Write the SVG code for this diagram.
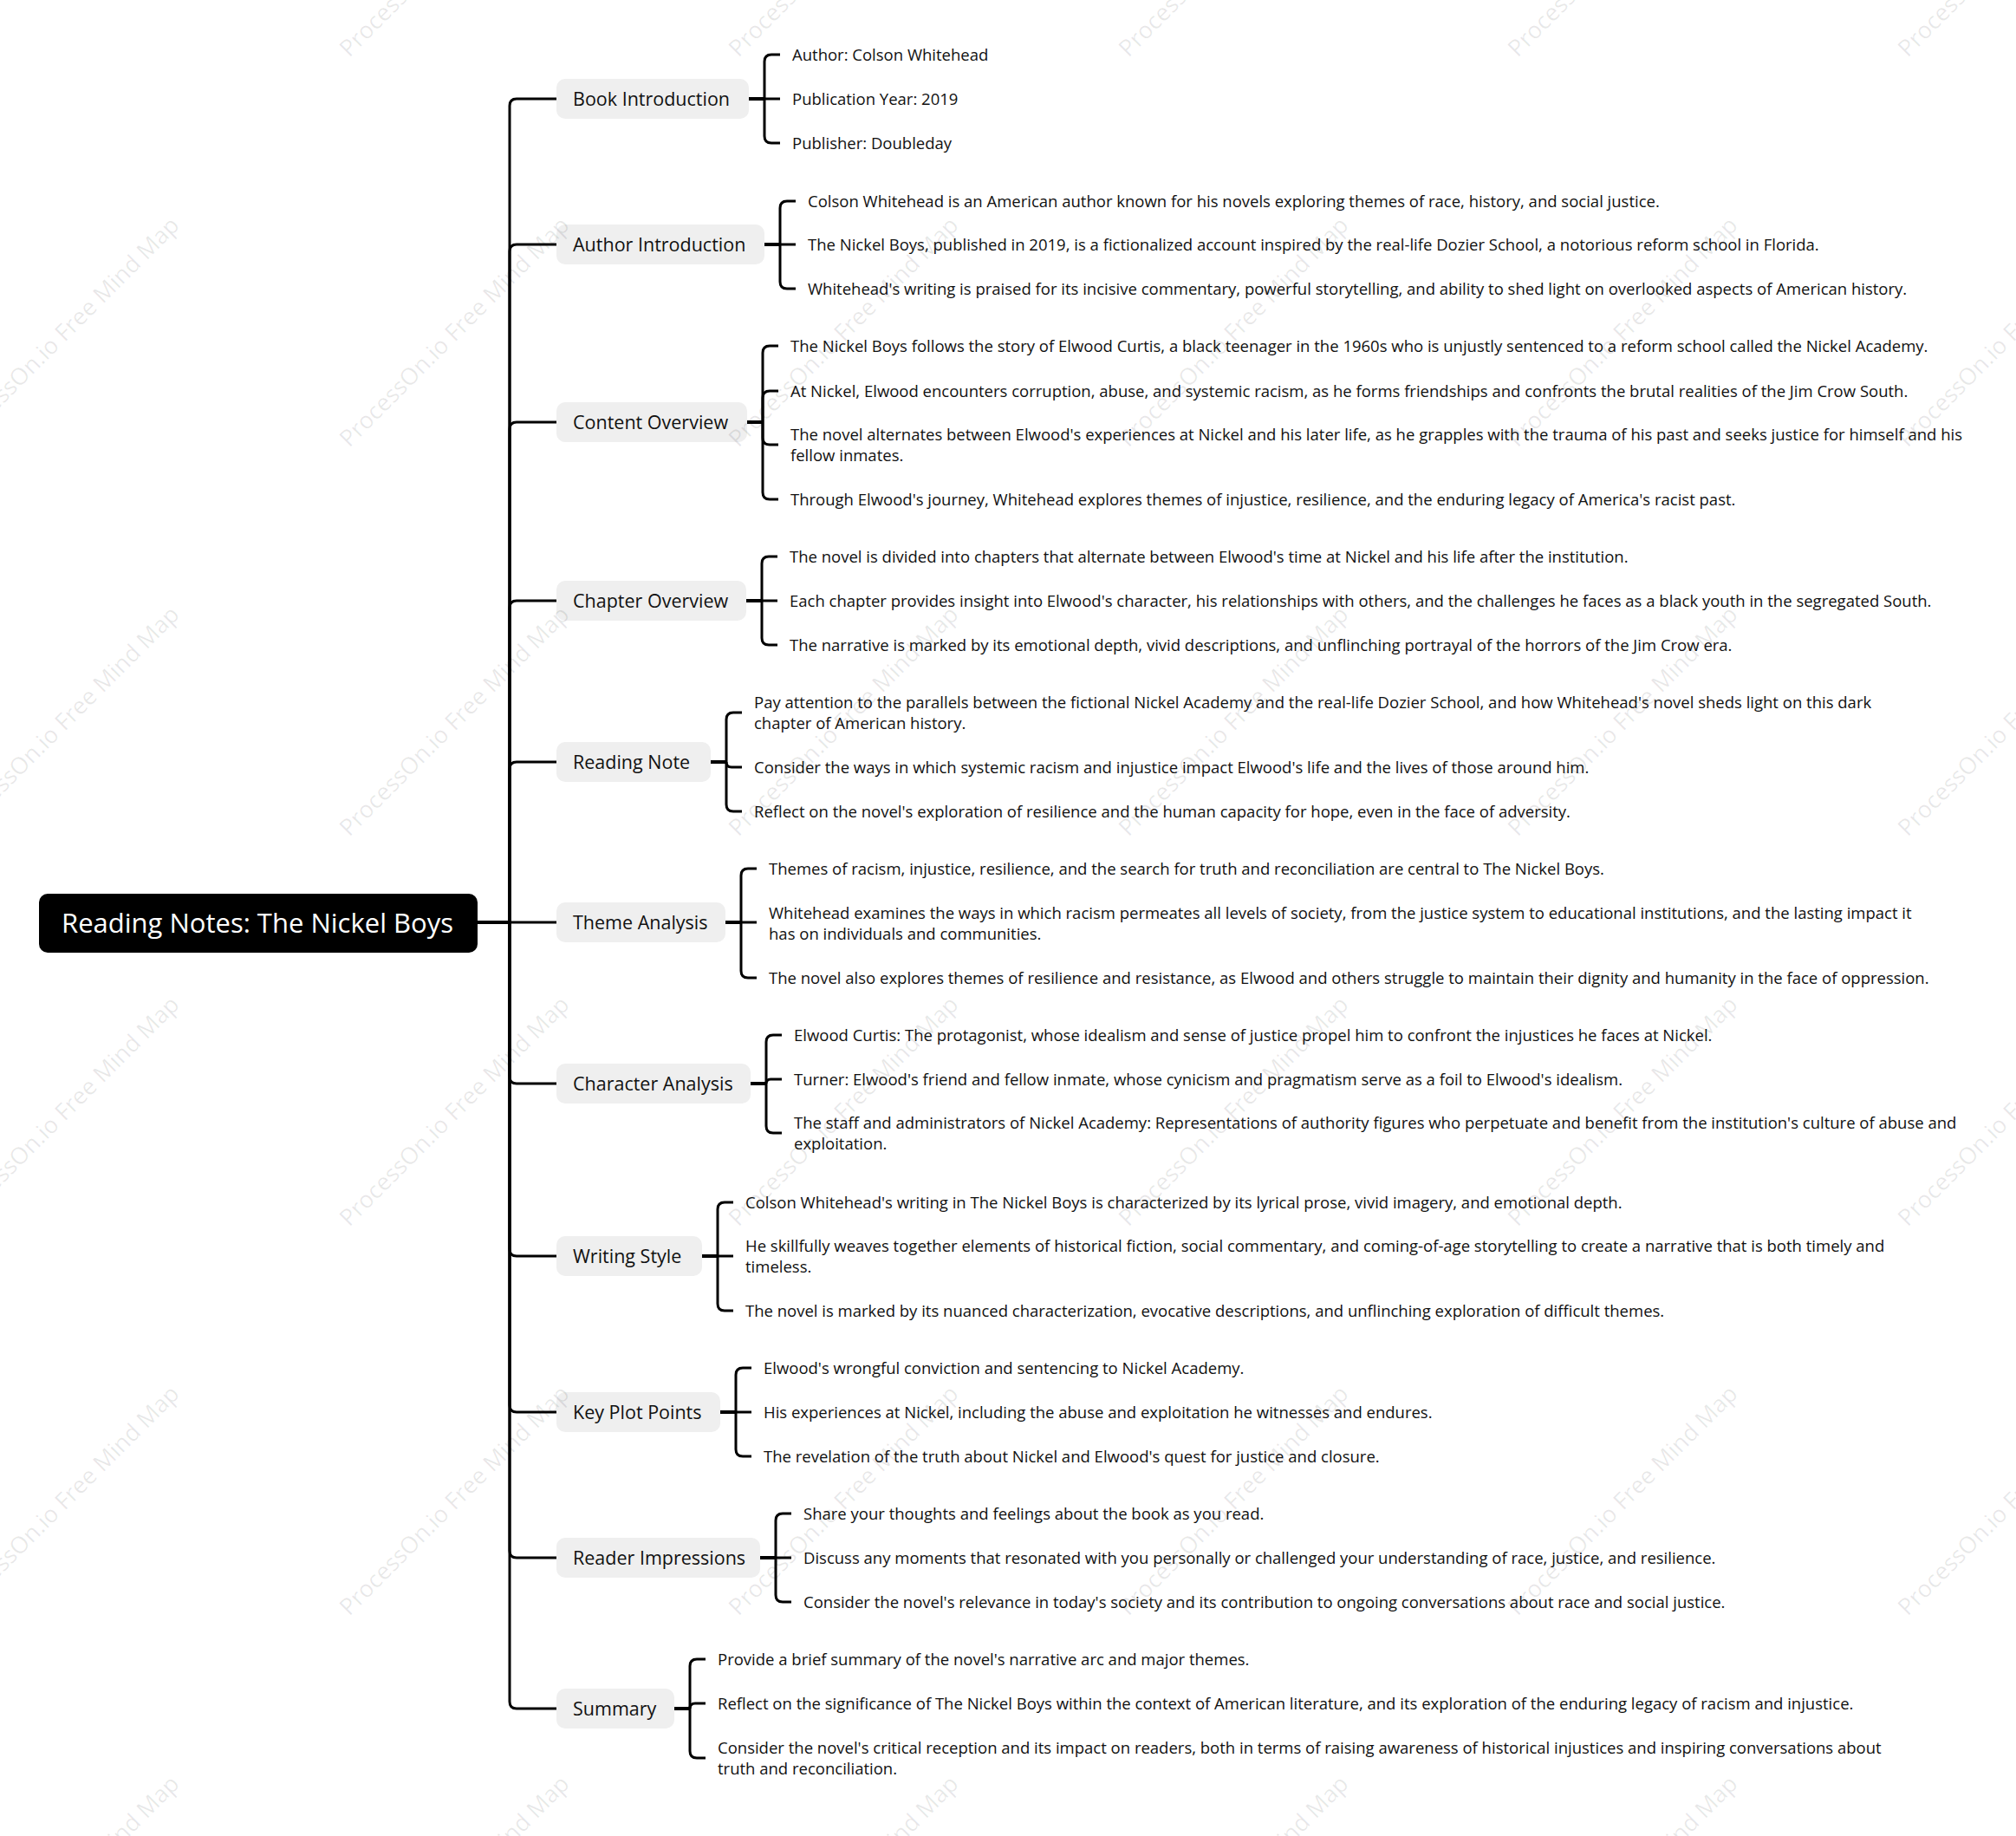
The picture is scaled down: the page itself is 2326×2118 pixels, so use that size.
<svg xmlns="http://www.w3.org/2000/svg" xmlns:xlink="http://www.w3.org/1999/xlink" width="2326" height="2118" viewBox="0 0 2326 2118">
<style>
.bg{fill:#ffffff}
.ln{fill:none;stroke:#000;stroke-width:3;stroke-linejoin:round}
.lt{fill:none;stroke:#000;stroke-width:4}
.root{fill:#000}
.rootT{fill:#fff;font-family:'Open Sans','Noto Sans',sans-serif;font-size:31px;text-anchor:middle}
.box{fill:#efefef}
.bt{fill:#111;font-family:'Open Sans','Noto Sans',sans-serif;font-size:21.5px}
.ct{fill:#111;font-family:'Open Sans','Noto Sans',sans-serif;font-size:18.5px}
.wm{fill:#000;fill-opacity:0.09;font-family:'Open Sans','Noto Sans',sans-serif;font-size:27px}
</style>
<defs>
<text id="wmt" class="wm" x="0" y="0">ProcessOn.io Free Mind Map</text>
</defs>
<rect class="bg" x="0" y="0" width="2326" height="2118"/>

<g id="connectors">
<path class="lt" d="M551 1064 H588"/>
<path class="ln" d="M588 1064 V122 Q588 114 596 114 H642"/>
<path class="ln" d="M588 1064 V290 Q588 282 596 282 H642"/>
<path class="ln" d="M588 1064 V495 Q588 487 596 487 H642"/>
<path class="ln" d="M588 1064 V701 Q588 693 596 693 H642"/>
<path class="ln" d="M588 1064 V887 Q588 879 596 879 H642"/>
<path class="ln" d="M588 1064 H642"/>
<path class="ln" d="M588 1064 V1242 Q588 1250 596 1250 H642"/>
<path class="ln" d="M588 1064 V1441 Q588 1449 596 1449 H642"/>
<path class="ln" d="M588 1064 V1621 Q588 1629 596 1629 H642"/>
<path class="ln" d="M588 1064 V1789 Q588 1797 596 1797 H642"/>
<path class="ln" d="M588 1064 V1963 Q588 1971 596 1971 H642"/>

<path class="lt" d="M864 114 H882"/>
<path class="ln" d="M882 114 V71 Q882 63 890 63 H900"/>
<path class="ln" d="M882 114 H900"/>
<path class="ln" d="M882 114 V157 Q882 165 890 165 H900"/>

<path class="lt" d="M882 282 H900"/>
<path class="ln" d="M900 282 V240 Q900 232 908 232 H918"/>
<path class="ln" d="M900 282 H918"/>
<path class="ln" d="M900 282 V325 Q900 333 908 333 H918"/>

<path class="lt" d="M862 487 H880"/>
<path class="ln" d="M880 487 V407 Q880 399 888 399 H898"/>
<path class="ln" d="M880 487 V459 Q880 451 888 451 H898"/>
<path class="ln" d="M880 487 V505 Q880 513 888 513 H898"/>
<path class="ln" d="M880 487 V568 Q880 576 888 576 H898"/>

<path class="lt" d="M861 693 H879"/>
<path class="ln" d="M879 693 V650 Q879 642 887 642 H897"/>
<path class="ln" d="M879 693 H897"/>
<path class="ln" d="M879 693 V736 Q879 744 887 744 H897"/>

<path class="lt" d="M820 879 H838"/>
<path class="ln" d="M838 879 V830 Q838 822 846 822 H856"/>
<path class="ln" d="M838 879 Q838 885 844 885 H856"/>
<path class="ln" d="M838 879 V928 Q838 936 846 936 H856"/>

<path class="lt" d="M837 1064 H855"/>
<path class="ln" d="M855 1064 V1010 Q855 1002 863 1002 H873"/>
<path class="ln" d="M855 1064 H873"/>
<path class="ln" d="M855 1064 V1120 Q855 1128 863 1128 H873"/>

<path class="lt" d="M866 1250 H884"/>
<path class="ln" d="M884 1250 V1202 Q884 1194 892 1194 H902"/>
<path class="ln" d="M884 1250 Q884 1245 889 1245 H902"/>
<path class="ln" d="M884 1250 V1299 Q884 1307 892 1307 H902"/>

<path class="lt" d="M810 1449 H828"/>
<path class="ln" d="M828 1449 V1395 Q828 1387 836 1387 H846"/>
<path class="ln" d="M828 1449 H846"/>
<path class="ln" d="M828 1449 V1504 Q828 1512 836 1512 H846"/>

<path class="lt" d="M831 1629 H849"/>
<path class="ln" d="M849 1629 V1586 Q849 1578 857 1578 H867"/>
<path class="ln" d="M849 1629 H867"/>
<path class="ln" d="M849 1629 V1672 Q849 1680 857 1680 H867"/>

<path class="lt" d="M877 1797 H895"/>
<path class="ln" d="M895 1797 V1754 Q895 1746 903 1746 H913"/>
<path class="ln" d="M895 1797 H913"/>
<path class="ln" d="M895 1797 V1840 Q895 1848 903 1848 H913"/>

<path class="lt" d="M778 1971 H796"/>
<path class="ln" d="M796 1971 V1922 Q796 1914 804 1914 H814"/>
<path class="ln" d="M796 1971 Q796 1965 802 1965 H814"/>
<path class="ln" d="M796 1971 V2020 Q796 2028 804 2028 H814"/>
</g>

<g id="root">
<rect class="root" x="45" y="1031" width="506" height="68" rx="10"/>
<text class="rootT" x="297" y="1076">Reading Notes: The Nickel Boys</text>
</g>

<g id="book-introduction">
<rect class="box" x="642" y="91" width="222" height="46" rx="10"/>
<text class="bt" x="661" y="122">Book Introduction</text>
<text class="ct" x="914" y="70">Author: Colson Whitehead</text>
<text class="ct" x="914" y="121">Publication Year: 2019</text>
<text class="ct" x="914" y="172">Publisher: Doubleday</text>
</g>

<g id="author-introduction">
<rect class="box" x="642" y="259" width="240" height="46" rx="10"/>
<text class="bt" x="661" y="290">Author Introduction</text>
<text class="ct" x="932" y="239">Colson Whitehead is an American author known for his novels exploring themes of race, history, and social justice.</text>
<text class="ct" x="932" y="289">The Nickel Boys, published in 2019, is a fictionalized account inspired by the real-life Dozier School, a notorious reform school in Florida.</text>
<text class="ct" x="932" y="340">Whitehead's writing is praised for its incisive commentary, powerful storytelling, and ability to shed light on overlooked aspects of American history.</text>
</g>

<g id="content-overview">
<rect class="box" x="642" y="464" width="220" height="46" rx="10"/>
<text class="bt" x="661" y="495">Content Overview</text>
<text class="ct" x="912" y="406">The Nickel Boys follows the story of Elwood Curtis, a black teenager in the 1960s who is unjustly sentenced to a reform school called the Nickel Academy.</text>
<text class="ct" x="912" y="458">At Nickel, Elwood encounters corruption, abuse, and systemic racism, as he forms friendships and confronts the brutal realities of the Jim Crow South.</text>
<text class="ct" x="912" y="508">The novel alternates between Elwood's experiences at Nickel and his later life, as he grapples with the trauma of his past and seeks justice for himself and his</text>
<text class="ct" x="912" y="532">fellow inmates.</text>
<text class="ct" x="912" y="583">Through Elwood's journey, Whitehead explores themes of injustice, resilience, and the enduring legacy of America's racist past.</text>
</g>

<g id="chapter-overview">
<rect class="box" x="642" y="670" width="219" height="46" rx="10"/>
<text class="bt" x="661" y="701">Chapter Overview</text>
<text class="ct" x="911" y="649">The novel is divided into chapters that alternate between Elwood's time at Nickel and his life after the institution.</text>
<text class="ct" x="911" y="700">Each chapter provides insight into Elwood's character, his relationships with others, and the challenges he faces as a black youth in the segregated South.</text>
<text class="ct" x="911" y="751">The narrative is marked by its emotional depth, vivid descriptions, and unflinching portrayal of the horrors of the Jim Crow era.</text>
</g>

<g id="reading-note">
<rect class="box" x="642" y="856" width="178" height="46" rx="10"/>
<text class="bt" x="661" y="887">Reading Note</text>
<text class="ct" x="870" y="817">Pay attention to the parallels between the fictional Nickel Academy and the real-life Dozier School, and how Whitehead's novel sheds light on this dark</text>
<text class="ct" x="870" y="841">chapter of American history.</text>
<text class="ct" x="870" y="892">Consider the ways in which systemic racism and injustice impact Elwood's life and the lives of those around him.</text>
<text class="ct" x="870" y="943">Reflect on the novel's exploration of resilience and the human capacity for hope, even in the face of adversity.</text>
</g>

<g id="theme-analysis">
<rect class="box" x="642" y="1041" width="195" height="46" rx="10"/>
<text class="bt" x="661" y="1072">Theme Analysis</text>
<text class="ct" x="887" y="1009">Themes of racism, injustice, resilience, and the search for truth and reconciliation are central to The Nickel Boys.</text>
<text class="ct" x="887" y="1060">Whitehead examines the ways in which racism permeates all levels of society, from the justice system to educational institutions, and the lasting impact it</text>
<text class="ct" x="887" y="1084">has on individuals and communities.</text>
<text class="ct" x="887" y="1135">The novel also explores themes of resilience and resistance, as Elwood and others struggle to maintain their dignity and humanity in the face of oppression.</text>
</g>

<g id="character-analysis">
<rect class="box" x="642" y="1227" width="224" height="46" rx="10"/>
<text class="bt" x="661" y="1258">Character Analysis</text>
<text class="ct" x="916" y="1201">Elwood Curtis: The protagonist, whose idealism and sense of justice propel him to confront the injustices he faces at Nickel.</text>
<text class="ct" x="916" y="1252">Turner: Elwood's friend and fellow inmate, whose cynicism and pragmatism serve as a foil to Elwood's idealism.</text>
<text class="ct" x="916" y="1302">The staff and administrators of Nickel Academy: Representations of authority figures who perpetuate and benefit from the institution's culture of abuse and</text>
<text class="ct" x="916" y="1326">exploitation.</text>
</g>

<g id="writing-style">
<rect class="box" x="642" y="1426" width="168" height="46" rx="10"/>
<text class="bt" x="661" y="1457">Writing Style</text>
<text class="ct" x="860" y="1394">Colson Whitehead's writing in The Nickel Boys is characterized by its lyrical prose, vivid imagery, and emotional depth.</text>
<text class="ct" x="860" y="1444">He skillfully weaves together elements of historical fiction, social commentary, and coming-of-age storytelling to create a narrative that is both timely and</text>
<text class="ct" x="860" y="1468">timeless.</text>
<text class="ct" x="860" y="1519">The novel is marked by its nuanced characterization, evocative descriptions, and unflinching exploration of difficult themes.</text>
</g>

<g id="key-plot-points">
<rect class="box" x="642" y="1606" width="189" height="46" rx="10"/>
<text class="bt" x="661" y="1637">Key Plot Points</text>
<text class="ct" x="881" y="1585">Elwood's wrongful conviction and sentencing to Nickel Academy.</text>
<text class="ct" x="881" y="1636">His experiences at Nickel, including the abuse and exploitation he witnesses and endures.</text>
<text class="ct" x="881" y="1687">The revelation of the truth about Nickel and Elwood's quest for justice and closure.</text>
</g>

<g id="reader-impressions">
<rect class="box" x="642" y="1774" width="235" height="46" rx="10"/>
<text class="bt" x="661" y="1805">Reader Impressions</text>
<text class="ct" x="927" y="1753">Share your thoughts and feelings about the book as you read.</text>
<text class="ct" x="927" y="1804">Discuss any moments that resonated with you personally or challenged your understanding of race, justice, and resilience.</text>
<text class="ct" x="927" y="1855">Consider the novel's relevance in today's society and its contribution to ongoing conversations about race and social justice.</text>
</g>

<g id="summary">
<rect class="box" x="642" y="1948" width="136" height="46" rx="10"/>
<text class="bt" x="661" y="1979">Summary</text>
<text class="ct" x="828" y="1921">Provide a brief summary of the novel's narrative arc and major themes.</text>
<text class="ct" x="828" y="1972">Reflect on the significance of The Nickel Boys within the context of American literature, and its exploration of the enduring legacy of racism and injustice.</text>
<text class="ct" x="828" y="2023">Consider the novel's critical reception and its impact on readers, both in terms of raising awareness of historical injustices and inspiring conversations about</text>
<text class="ct" x="828" y="2047">truth and reconciliation.</text>
</g>

<g id="watermark">
<use xlink:href="#wmt" transform="translate(403,67) rotate(-45)"/>
<use xlink:href="#wmt" transform="translate(852,67) rotate(-45)"/>
<use xlink:href="#wmt" transform="translate(1302,67) rotate(-45)"/>
<use xlink:href="#wmt" transform="translate(1751,67) rotate(-45)"/>
<use xlink:href="#wmt" transform="translate(2201,67) rotate(-45)"/>
<use xlink:href="#wmt" transform="translate(-47,517) rotate(-45)"/>
<use xlink:href="#wmt" transform="translate(403,517) rotate(-45)"/>
<use xlink:href="#wmt" transform="translate(852,517) rotate(-45)"/>
<use xlink:href="#wmt" transform="translate(1302,517) rotate(-45)"/>
<use xlink:href="#wmt" transform="translate(1751,517) rotate(-45)"/>
<use xlink:href="#wmt" transform="translate(2201,517) rotate(-45)"/>
<use xlink:href="#wmt" transform="translate(-47,966) rotate(-45)"/>
<use xlink:href="#wmt" transform="translate(403,966) rotate(-45)"/>
<use xlink:href="#wmt" transform="translate(852,966) rotate(-45)"/>
<use xlink:href="#wmt" transform="translate(1302,966) rotate(-45)"/>
<use xlink:href="#wmt" transform="translate(1751,966) rotate(-45)"/>
<use xlink:href="#wmt" transform="translate(2201,966) rotate(-45)"/>
<use xlink:href="#wmt" transform="translate(-47,1416) rotate(-45)"/>
<use xlink:href="#wmt" transform="translate(403,1416) rotate(-45)"/>
<use xlink:href="#wmt" transform="translate(852,1416) rotate(-45)"/>
<use xlink:href="#wmt" transform="translate(1302,1416) rotate(-45)"/>
<use xlink:href="#wmt" transform="translate(1751,1416) rotate(-45)"/>
<use xlink:href="#wmt" transform="translate(2201,1416) rotate(-45)"/>
<use xlink:href="#wmt" transform="translate(-47,1865) rotate(-45)"/>
<use xlink:href="#wmt" transform="translate(403,1865) rotate(-45)"/>
<use xlink:href="#wmt" transform="translate(852,1865) rotate(-45)"/>
<use xlink:href="#wmt" transform="translate(1302,1865) rotate(-45)"/>
<use xlink:href="#wmt" transform="translate(1751,1865) rotate(-45)"/>
<use xlink:href="#wmt" transform="translate(2201,1865) rotate(-45)"/>
<use xlink:href="#wmt" transform="translate(-47,2315) rotate(-45)"/>
<use xlink:href="#wmt" transform="translate(403,2315) rotate(-45)"/>
<use xlink:href="#wmt" transform="translate(852,2315) rotate(-45)"/>
<use xlink:href="#wmt" transform="translate(1302,2315) rotate(-45)"/>
<use xlink:href="#wmt" transform="translate(1751,2315) rotate(-45)"/>
<use xlink:href="#wmt" transform="translate(2201,2315) rotate(-45)"/>
</g>
</svg>
